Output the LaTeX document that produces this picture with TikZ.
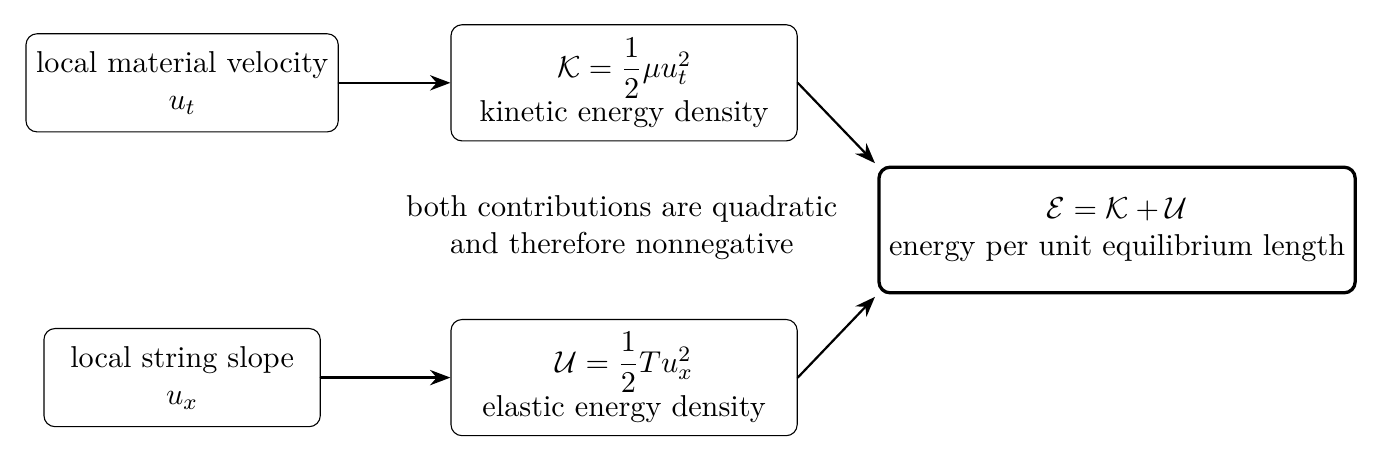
\documentclass[tikz,border=0pt,11pt]{standalone}
\usepackage{amsmath}
\usepackage{tikz}
\usetikzlibrary{arrows.meta, calc}

\begin{document}
\begin{tikzpicture}[line cap=round,
  quantity/.style={draw, thin, rounded corners, align=center, minimum width=3.52cm, minimum height=1.25cm},
  density/.style={quantity, minimum width=4.41cm, minimum height=1.48cm},
  total/.style={draw, very thick, rounded corners, align=center, minimum height=1.6cm},
  flow/.style={-{Stealth[length=2.6mm]}, thick}]

  \useasboundingbox (0,0) rectangle (17.63,-5.885);

  \coordinate (V) at (2.32,-1.055);
  \coordinate (S) at (2.32,-4.81);
  \coordinate (K) at (7.95,-1.055);
  \coordinate (U) at (7.95,-4.81);
  \coordinate (E) at (14.23,-2.93);

  \node[quantity] (velocity) at (V) {local material velocity\\ $u_t$};
  \node[quantity] (slope) at (S) {local string slope\\ $u_x$};
  \node[density] (kinetic) at (K) {$\mathcal{K}=\dfrac{1}{2}\mu u_t^2$\\ kinetic energy density};
  \node[density] (elastic) at (U) {$\mathcal{U}=\dfrac{1}{2}T u_x^2$\\ elastic energy density};
  \node[total] (energy) at (E) {$\mathcal{E}=\mathcal{K}+\mathcal{U}$\\ energy per unit equilibrium length};
  \node[align=center] (note) at (7.92,-2.90) {both contributions are quadratic\\ and therefore nonnegative};

  \draw[flow] (velocity.east) -- (kinetic.west);
  \draw[flow] (slope.east) -- (elastic.west);
  \draw[flow] (kinetic.east) -- ($ (energy.north west)+(-0.03,0.03) $);
  \draw[flow] (elastic.east) -- ($ (energy.south west)+(-0.03,-0.03) $);

\end{tikzpicture}
\end{document}
